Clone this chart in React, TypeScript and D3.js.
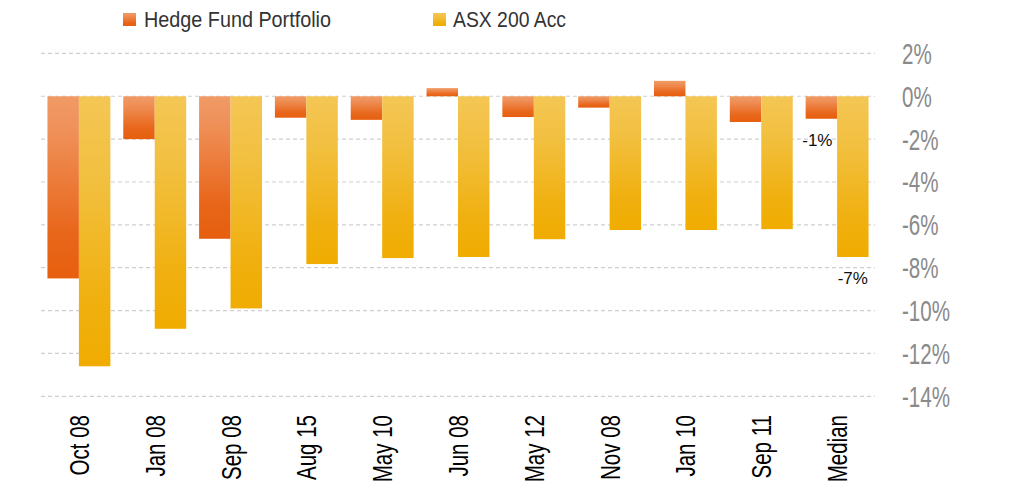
import React from "react";
import * as d3 from "d3";

const categories = ["Oct 08", "Jan 08", "Sep 08", "Aug 15", "May 10", "Jun 08", "May 12", "Nov 08", "Jan 10", "Sep 11", "Median"];
const hedgeFund = [-8.5, -2.0, -6.65, -1.0, -1.1, 0.38, -0.97, -0.53, 0.72, -1.2, -1.05];
const asx200 = [-12.6, -10.85, -9.9, -7.83, -7.55, -7.5, -6.67, -6.24, -6.24, -6.2, -7.5];
const yTicks = [2, 0, -2, -4, -6, -8, -10, -12, -14];
const seriesNames = ["Hedge Fund Portfolio", "ASX 200 Acc"];
const medianLabels = ["-1%", "-7%"];

const W = 1012;
const H = 493;
const SANS = "'Liberation Sans', Arial, sans-serif";

export default function App() {
  const x0 = d3.scaleBand<string>().domain(categories).range([41, 875]).paddingInner(0.17).paddingOuter(0.085);
  const x1 = d3.scaleBand<string>().domain(["h", "a"]).range([0, x0.bandwidth()]);
  const y = d3.scaleLinear().domain([2, -14]).range([53.4, 396.3]);

  const bar = (v: number) => ({ y: Math.min(y(v), y(0)), h: Math.abs(y(v) - y(0)) });
  const last = categories.length - 1;

  return (
    <svg width={W} height={H} style={{ position: "absolute", left: 0, top: 0, background: "#fff" }}>
      <defs>
        <linearGradient id="gHedge" x1="0" y1="0" x2="0" y2="1">
          <stop offset="0" stopColor="#F09A66" />
          <stop offset="0.2" stopColor="#EF9058" />
          <stop offset="0.75" stopColor="#E8661A" />
          <stop offset="1" stopColor="#E65F0E" />
        </linearGradient>
        <linearGradient id="gAsx" x1="0" y1="0" x2="0" y2="1">
          <stop offset="0" stopColor="#F4C654" />
          <stop offset="0.3" stopColor="#F2C040" />
          <stop offset="0.75" stopColor="#F0B010" />
          <stop offset="1" stopColor="#F0AC00" />
        </linearGradient>
      </defs>

      {/* gridlines */}
      {yTicks.map((t) => (
        <line key={"g" + t} x1={41} x2={875} y1={y(t)} y2={y(t)} stroke="#cfcfcf" strokeWidth={1.2} strokeDasharray="4,3" />
      ))}

      {/* y tick labels */}
      {yTicks.map((t) => (
        <text
          key={"t" + t}
          transform={`translate(902,${y(t) + 10.5}) scale(0.71,1)`}
          fontFamily={SANS}
          fontSize={29}
          fill="#8a8a8a"
        >
          {t + "%"}
        </text>
      ))}

      {/* bars */}
      {categories.map((c, i) => {
        const bh = bar(hedgeFund[i]);
        const ba = bar(asx200[i]);
        const bx = x0(c) as number;
        return (
          <g key={c}>
            <rect x={bx + (x1("h") as number)} y={bh.y} width={x1.bandwidth()} height={bh.h} fill="url(#gHedge)" />
            <rect x={bx + (x1("a") as number)} y={ba.y} width={x1.bandwidth()} height={ba.h} fill="url(#gAsx)" />
          </g>
        );
      })}

      {/* median labels */}
      <text
        x={(x0(categories[last]) as number) + (x1("h") as number) + x1.bandwidth() / 2 - 4}
        y={y(hedgeFund[last]) + 27}
        textAnchor="middle"
        fontFamily={SANS}
        fontSize={17}
        fill="#111"
      >
        {medianLabels[0]}
      </text>
      <text
        x={(x0(categories[last]) as number) + (x1("a") as number) + x1.bandwidth() / 2}
        y={y(asx200[last]) + 27}
        textAnchor="middle"
        fontFamily={SANS}
        fontSize={17}
        fill="#111"
      >
        {medianLabels[1]}
      </text>

      {/* x labels */}
      {categories.map((c) => {
        const cx = (x0(c) as number) + x0.bandwidth() / 2;
        return (
          <text
            key={"x" + c}
            transform={`translate(${cx + 10},415) rotate(-90) scale(0.76,1)`}
            textAnchor="end"
            fontFamily={SANS}
            fontSize={27}
            fill="#000"
          >
            {c}
          </text>
        );
      })}

      {/* legend */}
      <rect x={123} y={13} width={13} height={13} fill="url(#gHedge)" />
      <text x={144} y={27} fontFamily={SANS} fontSize={22} fill="#333" textLength={187} lengthAdjust="spacingAndGlyphs">
        {seriesNames[0]}
      </text>
      <rect x={433} y={13} width={13} height={13} fill="url(#gAsx)" />
      <text x={453} y={27} fontFamily={SANS} fontSize={22} fill="#333" textLength={113} lengthAdjust="spacingAndGlyphs">
        {seriesNames[1]}
      </text>
    </svg>
  );
}
